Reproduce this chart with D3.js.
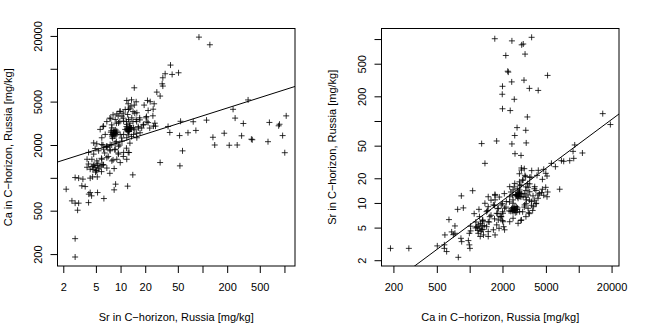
<!DOCTYPE html>
<html>
<head>
<meta charset="utf-8">
<script src="https://cdn.jsdelivr.net/npm/d3@7"></script>
<style>
  body { margin: 0; background: #fff; }
  svg { display: block; }
  text { font-family: "Liberation Sans", Arial, Helvetica, sans-serif; fill: #000; }
</style>
</head>
<body>
<svg id="chart" width="648" height="324"></svg>
<script>
// Sr and Ca (mg/kg) in C-horizon soil samples, Russia; one entry per sample
const srValues = [
  1009, 950, 850, 870, 1050, 630, 655, 405, 395, 360, 300, 315, 265, 250, 236, 212, 184, 141, 134, 112,
  83, 77, 66.5, 53, 57, 52.5, 54, 123, 90.5, 51, 30.4,
  40.7, 35, 42.6, 32.8, 32.2, 32.8, 14.7, 27.7, 30.4, 38, 39.9,
  2.79, 2.79, 2.99, 2.55, 2.79, 3.08, 4.07, 2.17, 2.79, 3.08, 3.47, 4.26, 4.56, 3.37, 3.7, 4.26, 4.1, 4.43,
  5.24, 6.26, 8.35, 8.7, 12.2, 14.1, 8.35, 12.7, 6.2, 4.07, 4.26, 3.9, 5.2,
  4.07, 4.7, 5.4, 6.2, 6.8, 7.47, 8.6, 9.45, 10.9, 4.47, 5.13, 5.9, 6.8, 7.83, 9.0, 4.7, 5.9, 5.13, 3.9, 4.9,
  11.9, 9.9,
  4.9, 5.2, 4.6, 5.4, 4.75, 5.05, 5.3, 4.5, 5.6, 4.95,
  6.1, 6.8, 7.4, 6.4, 5.85, 7.07, 8.1, 6.1, 6.8, 5.85, 7.4, 12.4, 10.8, 13, 11.8, 9.8, 8.9, 10.3, 8.5, 9.35, 7.8,
  4.7, 5.13, 5.9, 6.8, 7.47, 8.6, 9.45, 10.4,
  9.0, 9.9, 9.45, 10.9, 11.9, 12.5, 13.7, 13.1, 11.4, 14.4, 16.6, 19.1, 17.3, 6.2, 5.64, 6.5, 5.9, 7.83, 8.2, 9.0,
  9.9, 10.9, 11.9, 12.5, 14.4, 15.8,
  11.9, 15.5, 13.4, 14.7, 12.5, 11.4, 10.4, 12.2, 15.8, 17.1, 15.5, 19.4, 21.3, 23, 25.7, 21.7, 24.8, 20.5, 21, 26.7,
  25.2, 13.6, 12.4, 25, 13, 14.2, 14.9, 10.8, 9.8, 9.35, 20.7, 21.7, 26.2, 22.7, 17.2, 18.9, 16.4, 18.1, 15.7, 10.8,
  11.8, 13, 14.2, 13.6, 14.9, 12.7, 8.1, 7.4, 6.8, 6.1, 7.8, 8.9, 9.8, 7.6, 8.6, 12.4, 13.6, 15.7,
  8.1, 7.8, 8.4, 8.0, 8.6, 7.6, 8.3, 8.8, 7.9, 8.5, 8.2, 7.7, 9.0, 8.0, 8.7,
  12.4, 12, 12.8, 12.2, 13.0, 11.8, 12.6, 13.3, 11.9, 12.9
];
const caValues = [
  1700, 2440, 3000, 3100, 3700, 2145, 3220, 2235, 2260, 5180, 2430, 3150, 2000, 3530, 4250, 1990, 2565, 2000, 2355, 3380,
  2720, 3270, 2590, 1288, 1768, 2440, 3300, 16600, 19500, 9190, 1381,
  10810, 9000, 8870, 8270, 7280, 6940, 6690, 6110, 5620, 2958, 2605,
  277, 188, 505, 615, 586, 586, 593, 787, 1006, 994, 973, 994, 1021, 845, 832, 733, 709, 684,
  733, 646, 776, 875, 839, 1065, 1217, 1706, 1316, 1340, 1200, 1250, 1020,
  1710, 1650, 1770, 1830, 1900, 1770, 1830, 1650, 1710, 1480, 1430, 1480, 1530, 1430, 1480, 1290, 1310, 1160, 1480, 1860,
  1480, 1380,
  1240, 1300, 1190, 1210, 1320, 1170, 1360, 1270, 1260, 1130,
  2000, 1940, 1810, 1690, 1510, 1570, 1460, 1320, 1230, 1140, 1100, 1710, 1570, 2080, 1870, 2000, 2150, 2320, 1810, 1690, 2000,
  2090, 2050, 2020, 1950, 2020, 2090, 1950, 2170,
  3860, 4080, 3190, 3310, 3090, 3430, 3550, 2870, 2780, 2870, 2870, 3090, 2590, 2980, 2780, 2500, 2330, 2870, 2500, 2680,
  2500, 2500, 2330, 2680, 2500, 2330,
  5120, 4980, 4550, 4645, 4235, 4235, 3680, 3810, 3950, 3550, 3430, 4645, 5120, 4990, 4775, 4145, 3705, 3550, 3260, 2980,
  2980, 5190, 4775, 4260, 4360, 4050, 3920, 3920, 4050, 3700, 3650, 3210, 3170, 2860, 3400, 3050, 2950, 2860, 3280, 3530,
  3280, 3170, 3280, 2860, 2760, 2660, 3780, 3530, 3280, 2950, 3060, 3170, 3280, 3480, 3430, 2480, 2390, 2560,
  2570, 2500, 2650, 2450, 2550, 2620, 2720, 2480, 2380, 2420, 2600, 2700, 2600, 2300, 2750,
  2800, 2850, 2760, 2700, 2900, 2950, 2650, 2800, 2750, 3000
];

// Axis ranges and tick marks (empty label = tick drawn without text)
const srDomain = [1.70, 1345];
const caDomain = [155.5, 23400];
const srTicks = [2, 5, 10, 20, 50, 100, 200, 500, 1000];
const srTickLabels = ["2", "5", "10", "20", "50", "", "200", "500", ""];
const caTicks = [200, 500, 1000, 2000, 5000, 10000, 20000];
const caTickLabels = ["200", "500", "", "2000", "5000", "", "20000"];

// Fitted lines on log10 scale: log10(y) = intercept + slope * log10(x)
const fitIntercepts = [3.09, -2.24];
const fitSlopes = [0.239, 0.99];

const srTitle = "Sr in C\u2212horizon, Russia [mg/kg]";
const caTitle = "Ca in C\u2212horizon, Russia [mg/kg]";

const samples = srValues.map((sr, i) => ({ sr, ca: caValues[i] }));

const svg = d3.select("#chart");

const panels = [
  { left: 57.5, xKey: "sr", yKey: "ca", xDomain: srDomain, yDomain: caDomain,
    xTicks: srTicks, xLabels: srTickLabels, yTicks: caTicks, yLabels: caTickLabels,
    xTitle: srTitle, yTitle: caTitle },
  { left: 381.5, xKey: "ca", yKey: "sr", xDomain: caDomain, yDomain: srDomain,
    xTicks: caTicks, xLabels: caTickLabels, yTicks: srTicks, yLabels: srTickLabels,
    xTitle: caTitle, yTitle: srTitle }
];

const plotTop = 28.5, plotBottom = 266, plotWidth = 237.5;

panels.forEach((p, k) => {
  const x = d3.scaleLog().domain(p.xDomain).range([p.left, p.left + plotWidth]);
  const y = d3.scaleLog().domain(p.yDomain).range([plotBottom, plotTop]);
  const g = svg.append("g");

  const clipId = "clip" + k;
  svg.append("clipPath").attr("id", clipId)
    .append("rect").attr("x", p.left).attr("y", plotTop)
    .attr("width", plotWidth).attr("height", plotBottom - plotTop);

  // sample crosses
  g.append("g")
    .selectAll("path")
    .data(samples)
    .join("path")
    .attr("transform", d => `translate(${x(d[p.xKey])},${y(d[p.yKey])})`)
    .attr("d", "M-3,0H3M0,-3V3")
    .attr("stroke", "#000")
    .attr("stroke-opacity", 0.8)
    .attr("stroke-width", 1)
    .attr("fill", "none");

  // fitted line across the whole panel
  const a = fitIntercepts[k], b = fitSlopes[k];
  const fitY = xv => Math.pow(10, a + b * Math.log10(xv));
  g.append("line")
    .attr("clip-path", `url(#${clipId})`)
    .attr("x1", x(p.xDomain[0])).attr("y1", y(fitY(p.xDomain[0])))
    .attr("x2", x(p.xDomain[1])).attr("y2", y(fitY(p.xDomain[1])))
    .attr("stroke", "#000").attr("stroke-width", 1);

  // panel frame
  g.append("rect")
    .attr("x", p.left).attr("y", plotTop)
    .attr("width", plotWidth).attr("height", plotBottom - plotTop)
    .attr("fill", "none").attr("stroke", "#000").attr("stroke-width", 1);

  // x axis
  const xAxis = g.append("g")
    .attr("transform", `translate(0,${plotBottom})`)
    .call(d3.axisBottom(x).tickValues(p.xTicks)
      .tickFormat((d, i) => p.xLabels[i]).tickSize(7).tickPadding(10).tickSizeOuter(0));
  xAxis.select(".domain").remove();
  xAxis.attr("font-family", null).attr("font-size", null);
  xAxis.selectAll("text").style("font-size", "11px");

  // y axis with labels parallel to the axis
  const yAxis = g.append("g")
    .attr("transform", `translate(${p.left},0)`)
    .call(d3.axisLeft(y).tickValues(p.yTicks)
      .tickFormat((d, i) => p.yLabels[i]).tickSize(7).tickSizeOuter(0));
  yAxis.select(".domain").remove();
  yAxis.attr("font-family", null).attr("font-size", null);
  yAxis.selectAll("text")
    .attr("x", null).attr("dy", null)
    .attr("text-anchor", "middle")
    .attr("transform", "translate(-16,0) rotate(-90)")
    .style("font-size", "11px");

  // axis titles
  g.append("text")
    .attr("x", p.left + plotWidth / 2).attr("y", 320.5)
    .attr("text-anchor", "middle").style("font-size", "11px")
    .text(p.xTitle);
  g.append("text")
    .attr("transform", `translate(${p.left - 45.5},${(plotTop + plotBottom) / 2}) rotate(-90)`)
    .attr("text-anchor", "middle").style("font-size", "11px")
    .text(p.yTitle);
});
</script>
</body>
</html>
